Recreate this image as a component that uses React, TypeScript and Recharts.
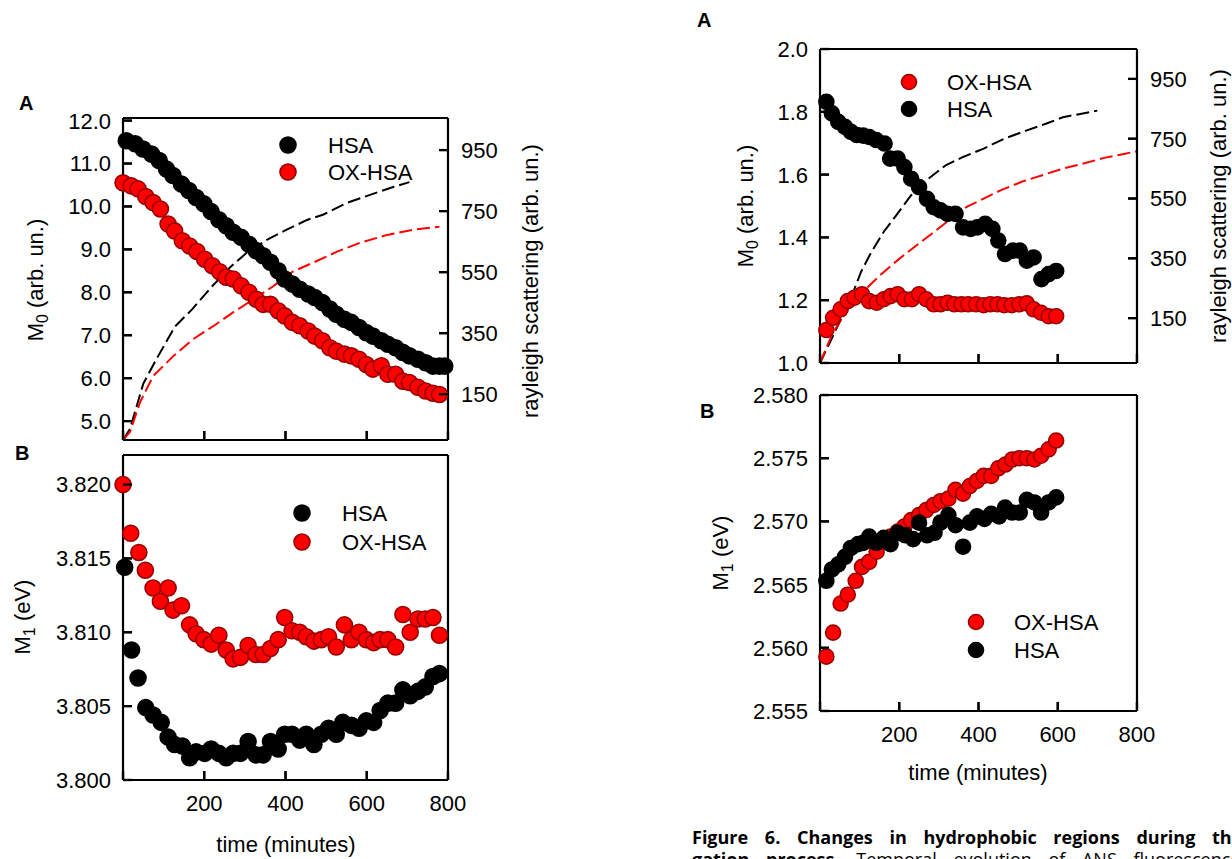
import { ComposedChart, Scatter, Line, XAxis, YAxis } from 'recharts';

// ---------- left column, panel A : M0 (left axis) + rayleigh scattering (right axis)
const leftA_hsaT = [8, 30, 49, 70, 89, 107, 123, 144, 162, 180, 199, 217, 236, 254, 271, 291, 310, 328, 345, 363, 382, 398, 417, 435, 456, 472, 491, 509, 525, 545, 562, 581, 599, 615, 636, 652, 671, 689, 705, 726, 745, 763, 779, 792];
const leftA_hsaM0 = [11.53, 11.46, 11.34, 11.22, 11.07, 10.87, 10.72, 10.52, 10.37, 10.21, 10.06, 9.88, 9.69, 9.55, 9.4, 9.28, 9.12, 8.97, 8.85, 8.7, 8.5, 8.31, 8.19, 8.07, 7.96, 7.88, 7.76, 7.61, 7.49, 7.37, 7.3, 7.18, 7.06, 6.98, 6.87, 6.79, 6.71, 6.6, 6.52, 6.44, 6.36, 6.28, 6.28, 6.28];
const leftA_oxT = [0, 20, 37, 56, 74, 92, 111, 127, 146, 164, 182, 201, 220, 238, 254, 271, 291, 310, 328, 345, 363, 382, 398, 417, 435, 456, 472, 491, 509, 525, 545, 562, 581, 599, 615, 636, 652, 671, 689, 705, 726, 745, 763, 779];
const leftA_oxM0 = [10.55, 10.48, 10.41, 10.23, 10.09, 9.94, 9.59, 9.43, 9.2, 9.08, 8.95, 8.77, 8.62, 8.48, 8.35, 8.31, 8.15, 8.0, 7.84, 7.72, 7.72, 7.57, 7.45, 7.3, 7.22, 7.1, 6.98, 6.87, 6.71, 6.63, 6.56, 6.52, 6.44, 6.32, 6.21, 6.29, 6.09, 6.09, 5.93, 5.9, 5.79, 5.7, 5.65, 5.62];
const leftA_hsaRayT = [0, 17, 50, 86, 128, 170, 219, 263, 305, 354, 403, 453, 492, 551, 608, 665, 705];
const leftA_hsaRay = [0, 36, 185, 274, 372, 428, 503, 565, 614, 656, 689, 721, 738, 777, 803, 829, 845];
const leftA_oxRayT = [0, 17, 42, 74, 123, 172, 221, 271, 320, 369, 418, 468, 527, 583, 650, 714, 779];
const leftA_oxRay = [0, 26, 124, 209, 274, 330, 372, 418, 460, 503, 552, 581, 617, 646, 672, 689, 699];

// ---------- left column, panel B : M1
const leftB_hsaT = [4, 21, 37, 56, 74, 94, 111, 127, 146, 164, 180, 201, 217, 236, 254, 271, 289, 308, 327, 345, 363, 382, 398, 416, 435, 451, 470, 488, 506, 525, 541, 562, 581, 599, 617, 633, 652, 671, 689, 707, 726, 744, 763, 779];
const leftB_hsaM1 = [3.8144, 3.8088, 3.8069, 3.8049, 3.8044, 3.8039, 3.8029, 3.8024, 3.8023, 3.8015, 3.8019, 3.8018, 3.8021, 3.8018, 3.8015, 3.8018, 3.8018, 3.8026, 3.8017, 3.8017, 3.8026, 3.8021, 3.8031, 3.8031, 3.8027, 3.8031, 3.8024, 3.8031, 3.8035, 3.8031, 3.8039, 3.8037, 3.8035, 3.804, 3.8039, 3.8047, 3.8052, 3.8052, 3.8061, 3.8057, 3.806, 3.8063, 3.807, 3.8072];
const leftB_oxT = [0, 19, 39, 55, 74, 92, 111, 123, 144, 164, 180, 199, 217, 236, 254, 271, 289, 308, 327, 345, 363, 382, 398, 416, 435, 451, 470, 488, 506, 525, 545, 562, 581, 599, 617, 633, 652, 671, 689, 707, 726, 744, 763, 779];
const leftB_oxM1 = [3.82, 3.8167, 3.8154, 3.8142, 3.813, 3.8121, 3.813, 3.8115, 3.8118, 3.8105, 3.8099, 3.8095, 3.8092, 3.8098, 3.8088, 3.8082, 3.8083, 3.8091, 3.8085, 3.8085, 3.8089, 3.8095, 3.811, 3.8101, 3.81, 3.8097, 3.8094, 3.8095, 3.8097, 3.809, 3.8105, 3.8095, 3.81, 3.8095, 3.8093, 3.8095, 3.8095, 3.809, 3.8112, 3.81, 3.8109, 3.8109, 3.811, 3.8098];

// ---------- right column, panel A
const rightA_hsaT = [16, 30, 46, 63, 78, 93, 109, 124, 142, 163, 177, 196, 213, 230, 250, 270, 287, 304, 322, 342, 361, 380, 397, 417, 435, 450, 467, 487, 504, 522, 539, 559, 577, 596];
const rightA_hsaM0 = [1.832, 1.795, 1.768, 1.752, 1.736, 1.726, 1.724, 1.72, 1.71, 1.699, 1.651, 1.651, 1.624, 1.587, 1.56, 1.523, 1.496, 1.486, 1.475, 1.475, 1.432, 1.427, 1.432, 1.443, 1.427, 1.39, 1.347, 1.358, 1.358, 1.326, 1.336, 1.267, 1.283, 1.293];
const rightA_oxT = [16, 33, 52, 70, 87, 106, 124, 143, 161, 178, 196, 213, 232, 250, 268, 287, 304, 322, 339, 357, 374, 394, 413, 430, 448, 465, 484, 503, 522, 539, 558, 577, 596];
const rightA_oxM0 = [1.105, 1.144, 1.171, 1.197, 1.208, 1.219, 1.197, 1.192, 1.203, 1.213, 1.219, 1.203, 1.203, 1.219, 1.203, 1.187, 1.187, 1.192, 1.187, 1.187, 1.187, 1.187, 1.184, 1.187, 1.187, 1.184, 1.184, 1.187, 1.19, 1.171, 1.16, 1.149, 1.149];
const rightA_hsaRayT = [0, 22, 48, 78, 104, 130, 161, 196, 230, 274, 317, 361, 413, 465, 522, 570, 613, 657, 700];
const rightA_hsaRay = [0, 61, 133, 217, 306, 372, 439, 500, 561, 617, 661, 689, 717, 750, 778, 800, 822, 833, 844];
const rightA_oxRayT = [0, 30, 65, 109, 152, 196, 239, 283, 326, 370, 413, 457, 509, 561, 613, 665, 717, 770, 800];
const rightA_oxRay = [0, 94, 172, 239, 294, 344, 389, 433, 478, 522, 550, 578, 606, 628, 650, 667, 686, 700, 708];

// ---------- right column, panel B
const rightB_oxT = [16, 33, 52, 70, 90, 106, 124, 143, 161, 178, 196, 213, 230, 250, 268, 287, 304, 324, 342, 361, 378, 396, 413, 432, 450, 468, 485, 503, 522, 541, 558, 577, 596];
const rightB_oxM1 = [2.5593, 2.5612, 2.5635, 2.5642, 2.5653, 2.5664, 2.5668, 2.5676, 2.5684, 2.5688, 2.5692, 2.5696, 2.5701, 2.5705, 2.5709, 2.5713, 2.5716, 2.5718, 2.5725, 2.5722, 2.5728, 2.5732, 2.5736, 2.5736, 2.5742, 2.5745, 2.5749, 2.575, 2.575, 2.5749, 2.5752, 2.5757, 2.5764];
const rightB_hsaT = [16, 30, 46, 63, 78, 96, 109, 124, 142, 161, 178, 196, 215, 235, 250, 270, 289, 304, 324, 342, 361, 378, 396, 415, 432, 452, 467, 485, 504, 522, 541, 558, 577, 596];
const rightB_hsaM1 = [2.5653, 2.5662, 2.5666, 2.5672, 2.5679, 2.5682, 2.5683, 2.5688, 2.5683, 2.5687, 2.5682, 2.5691, 2.5689, 2.5686, 2.5699, 2.5689, 2.5691, 2.5699, 2.5705, 2.5697, 2.568, 2.5699, 2.5704, 2.5702, 2.5706, 2.5704, 2.5711, 2.5707, 2.5707, 2.5717, 2.5715, 2.5707, 2.5715, 2.5719];

// ---------- tick labels
const timeMajors = [0, 200, 400, 600, 800];
const m0LeftMajors = [5, 6, 7, 8, 9, 10, 11, 12];
const m0RightMajors = [1.0, 1.2, 1.4, 1.6, 1.8, 2.0];
const rayMajors = [150, 350, 550, 750, 950];
const m1LeftMajors = [3.8, 3.805, 3.81, 3.815, 3.82];
const m1RightMajors = [2.555, 2.56, 2.565, 2.57, 2.575, 2.58];

const pts = (t: number[], v: number[]) => t.map((x, i) => ({ t: x, v: v[i] }));

const range = (a: number, b: number, step: number) => {
  const out: number[] = [];
  for (let i = 0; a + i * step <= b + step * 1e-6; i++) out.push(+(a + i * step).toFixed(6));
  return out;
};

const timeMinor = range(0, 800, 40);
const m0LeftMinor = range(4.6, 12.0, 0.2);
const m0RightMinor = range(1.0, 2.0, 0.04);
const rayMinor = range(30, 1030, 40);
const m1LeftMinor = range(3.8, 3.822, 0.001);
const m1RightMinor = range(2.555, 2.58, 0.001);

const FONT = '"Liberation Sans", Arial, sans-serif';
const RED = '#ff0000';
const DARK_RED = '#9a0000';
const MAJOR = 9;
const MINOR = 5;
const TW = 2.2; // tick thickness

type Side = 'left' | 'right' | 'top' | 'bottom';

// tick renderer: an inward mark plus, for labelled axes, the value
function makeTick(side: Side, len: number, digits: number, showLabel: boolean, hide: number[] = []) {
  return (props: any) => {
    const x = Number(props.x);
    const y = Number(props.y);
    const v = Number(props.payload.value);
    const txt = { fontSize: 22, fontFamily: FONT, fill: '#000', stroke: 'none' };
    const show = showLabel && !hide.some((h) => Math.abs(h - v) < 1e-6);
    let mark;
    let label = null;
    if (side === 'left') {
      mark = <rect x={x} y={y - TW / 2} width={len} height={TW} fill="#000" stroke="none" />;
      if (show) label = <text x={x - 12} y={y} dy="0.36em" textAnchor="end" {...txt}>{v.toFixed(digits)}</text>;
    } else if (side === 'right') {
      mark = <rect x={x - len} y={y - TW / 2} width={len} height={TW} fill="#000" stroke="none" />;
      if (show) label = <text x={x + 13} y={y} dy="0.36em" textAnchor="start" {...txt}>{v.toFixed(digits)}</text>;
    } else if (side === 'bottom') {
      mark = <rect x={x - TW / 2} y={y - len} width={TW} height={len} fill="#000" stroke="none" />;
      if (show) label = <text x={x} y={y + 31} textAnchor="middle" {...txt}>{v.toFixed(digits)}</text>;
    } else {
      mark = <rect x={x - TW / 2} y={y} width={TW} height={len} fill="#000" stroke="none" />;
    }
    return (
      <g>
        {mark}
        {label}
      </g>
    );
  };
}

const dotShape = (fill: string, stroke: string, r: number) => (p: any) =>
  <circle cx={p.cx} cy={p.cy} r={r} fill={fill} stroke={stroke} strokeWidth={1.6} />;

const axisLine = { stroke: '#000', strokeWidth: 2.2 };
const tickLine = { stroke: '#000', strokeWidth: TW };
const THIN = 0.01; // axis box thickness: recharts drops axes whose box is 0

// bottom + top time axes, each as a major axis (long ticks, labels) and a minor one (short ticks)
function xAxes(labels: boolean) {
  const common = { dataKey: 't', type: 'number' as const, domain: [0, 800], interval: 0, height: THIN, tickLine };
  return [
    <XAxis key="xb" xAxisId="b" orientation="bottom" {...common} ticks={timeMajors} tickSize={-MAJOR} tickMargin={MAJOR} axisLine={axisLine} tick={makeTick('bottom', MAJOR, 0, labels, [0])} />,
    <XAxis key="xbm" xAxisId="bm" orientation="bottom" {...common} ticks={timeMinor} tickSize={-MINOR} tickMargin={MINOR} axisLine={false} tick={makeTick('bottom', MINOR, 0, false)} />,
    <XAxis key="xt" xAxisId="t" orientation="top" {...common} ticks={timeMajors} tickSize={-MAJOR} tickMargin={MAJOR} axisLine={axisLine} tick={makeTick('top', MAJOR, 0, false)} />,
    <XAxis key="xtm" xAxisId="tm" orientation="top" {...common} ticks={timeMinor} tickSize={-MINOR} tickMargin={MINOR} axisLine={false} tick={makeTick('top', MINOR, 0, false)} />,
  ];
}

function yAxes(id: string, side: 'left' | 'right', domain: number[], majors: number[], minors: number[], digits: number, labels: boolean) {
  const common = { type: 'number' as const, orientation: side, domain, interval: 0, width: THIN, tickLine };
  return [
    <YAxis key={id} yAxisId={id} {...common} ticks={majors} tickSize={-MAJOR} tickMargin={MAJOR} axisLine={axisLine} tick={makeTick(side, MAJOR, digits, labels)} />,
    <YAxis key={id + 'm'} yAxisId={id + 'm'} {...common} ticks={minors} tickSize={-MINOR} tickMargin={MINOR} axisLine={false} tick={makeTick(side, MINOR, digits, false)} />,
  ];
}

function Title({ x, y, main, sub, rest }: { x: number; y: number; main: string; sub?: string; rest: string }) {
  return (
    <text x={x} y={y} dy="0.35em" textAnchor="middle" fontSize={22} fontFamily={FONT} fill="#000" transform={`rotate(-90 ${x} ${y})`}>
      {main}
      {sub && (
        <tspan dy={5} fontSize={16}>
          {sub}
        </tspan>
      )}
      <tspan dy={sub ? -5 : 0}>{rest}</tspan>
    </text>
  );
}

function LegendItem({ x, y, r, fill, stroke, textX, label }: { x: number; y: number; r: number; fill: string; stroke: string; textX: number; label: string }) {
  return (
    <g>
      <circle cx={x} cy={y} r={r} fill={fill} stroke={stroke} strokeWidth={1.6} />
      <text x={textX} y={y} dy="0.36em" fontSize={22} fontFamily={FONT} fill="#000">
        {label}
      </text>
    </g>
  );
}

function PanelLetter({ x, y, letter }: { x: number; y: number; letter: string }) {
  return (
    <text x={x} y={y} fontSize={20} fontWeight="bold" fontFamily={FONT} fill="#000">
      {letter}
    </text>
  );
}

export default function App() {
  return (
    <div style={{ position: 'absolute', left: 0, top: 0, width: 1232, height: 859, background: '#fff', overflow: 'hidden', fontFamily: FONT }}>
      {/* left column, A */}
      <div style={{ position: 'absolute', left: 0, top: 60 }}>
        <ComposedChart width={565} height={390} margin={{ top: 58, right: 117, bottom: 10, left: 123 }}>
          {xAxes(false)}
          {yAxes('l', 'left', [4.56, 12.06], m0LeftMajors, m0LeftMinor, 1, true)}
          {yAxes('r', 'right', [0, 1055], rayMajors, rayMinor, 0, true)}
          <Scatter data={pts(leftA_oxT, leftA_oxM0)} dataKey="v" xAxisId="b" yAxisId="l" shape={dotShape(RED, DARK_RED, 8)} isAnimationActive={false} />
          <Scatter data={pts(leftA_hsaT, leftA_hsaM0)} dataKey="v" xAxisId="b" yAxisId="l" shape={dotShape('#000', '#000', 8)} isAnimationActive={false} />
          <Line data={pts(leftA_hsaRayT, leftA_hsaRay)} dataKey="v" xAxisId="b" yAxisId="r" type="linear" stroke="#000" strokeWidth={2} strokeDasharray="13 5" dot={false} activeDot={false} isAnimationActive={false} />
          <Line data={pts(leftA_oxRayT, leftA_oxRay)} dataKey="v" xAxisId="b" yAxisId="r" type="linear" stroke={RED} strokeWidth={2} strokeDasharray="13 5" dot={false} activeDot={false} isAnimationActive={false} />
        </ComposedChart>
      </div>

      {/* left column, B */}
      <div style={{ position: 'absolute', left: 0, top: 440 }}>
        <ComposedChart width={565} height={419} margin={{ top: 15, right: 117, bottom: 79, left: 123 }}>
          {xAxes(true)}
          {yAxes('l', 'left', [3.8, 3.822], m1LeftMajors, m1LeftMinor, 3, true)}
          {yAxes('r', 'right', [3.8, 3.822], m1LeftMajors, m1LeftMinor, 3, false)}
          <Scatter data={pts(leftB_hsaT, leftB_hsaM1)} dataKey="v" xAxisId="b" yAxisId="l" shape={dotShape('#000', '#000', 8)} isAnimationActive={false} />
          <Scatter data={pts(leftB_oxT, leftB_oxM1)} dataKey="v" xAxisId="b" yAxisId="l" shape={dotShape(RED, DARK_RED, 8)} isAnimationActive={false} />
        </ComposedChart>
      </div>

      {/* right column, A */}
      <div style={{ position: 'absolute', left: 680, top: 0 }}>
        <ComposedChart width={552} height={375} margin={{ top: 49, right: 95, bottom: 12, left: 140 }}>
          {xAxes(false)}
          {yAxes('l', 'left', [1.0, 2.0], m0RightMajors, m0RightMinor, 1, true)}
          {yAxes('r', 'right', [0, 1050], rayMajors, rayMinor, 0, true)}
          <Scatter data={pts(rightA_hsaT, rightA_hsaM0)} dataKey="v" xAxisId="b" yAxisId="l" shape={dotShape('#000', '#000', 7.5)} isAnimationActive={false} />
          <Scatter data={pts(rightA_oxT, rightA_oxM0)} dataKey="v" xAxisId="b" yAxisId="l" shape={dotShape(RED, DARK_RED, 7.5)} isAnimationActive={false} />
          <Line data={pts(rightA_hsaRayT, rightA_hsaRay)} dataKey="v" xAxisId="b" yAxisId="r" type="linear" stroke="#000" strokeWidth={2} strokeDasharray="13 5" dot={false} activeDot={false} isAnimationActive={false} />
          <Line data={pts(rightA_oxRayT, rightA_oxRay)} dataKey="v" xAxisId="b" yAxisId="r" type="linear" stroke={RED} strokeWidth={2} strokeDasharray="13 5" dot={false} activeDot={false} isAnimationActive={false} />
        </ComposedChart>
      </div>

      {/* right column, B */}
      <div style={{ position: 'absolute', left: 680, top: 375 }}>
        <ComposedChart width={552} height={430} margin={{ top: 20, right: 95, bottom: 94, left: 140 }}>
          {xAxes(true)}
          {yAxes('l', 'left', [2.555, 2.58], m1RightMajors, m1RightMinor, 3, true)}
          {yAxes('r', 'right', [2.555, 2.58], m1RightMajors, m1RightMinor, 3, false)}
          <Scatter data={pts(rightB_oxT, rightB_oxM1)} dataKey="v" xAxisId="b" yAxisId="l" shape={dotShape(RED, DARK_RED, 7.5)} isAnimationActive={false} />
          <Scatter data={pts(rightB_hsaT, rightB_hsaM1)} dataKey="v" xAxisId="b" yAxisId="l" shape={dotShape('#000', '#000', 7.5)} isAnimationActive={false} />
        </ComposedChart>
      </div>

      {/* titles, panel letters and legends */}
      <svg width={1232} height={859} style={{ position: 'absolute', left: 0, top: 0, pointerEvents: 'none' }}>
        <PanelLetter x={19} y={110} letter="A" />
        <Title x={35} y={280} main="M" sub="0" rest=" (arb. un.)" />
        <Title x={530} y={281} main="rayleigh scattering (arb. un.)" rest="" />
        <LegendItem x={288} y={145} r={8} fill="#000" stroke="#000" textX={328} label="HSA" />
        <LegendItem x={288} y={172} r={8} fill={RED} stroke={DARK_RED} textX={328} label="OX-HSA" />

        <PanelLetter x={15} y={460} letter="B" />
        <Title x={22} y={617} main="M" sub="1" rest=" (eV)" />
        <text x={286} y={852} textAnchor="middle" fontSize={22} fontFamily={FONT} fill="#000">time (minutes)</text>
        <LegendItem x={302} y={513} r={8} fill="#000" stroke="#000" textX={342} label="HSA" />
        <LegendItem x={302} y={542} r={8} fill={RED} stroke={DARK_RED} textX={342} label="OX-HSA" />

        <PanelLetter x={697} y={27} letter="A" />
        <Title x={745} y={206} main="M" sub="0" rest=" (arb. un.)" />
        <Title x={1218} y={206} main="rayleigh scattering (arb. un.)" rest="" />
        <LegendItem x={909} y={82} r={7.5} fill={RED} stroke={DARK_RED} textX={947} label="OX-HSA" />
        <LegendItem x={909} y={109} r={7.5} fill="#000" stroke="#000" textX={947} label="HSA" />

        <PanelLetter x={700} y={418} letter="B" />
        <Title x={720} y={553} main="M" sub="1" rest=" (eV)" />
        <text x={978} y={780} textAnchor="middle" fontSize={22} fontFamily={FONT} fill="#000">time (minutes)</text>
        <LegendItem x={976} y={622} r={7.5} fill={RED} stroke={DARK_RED} textX={1014} label="OX-HSA" />
        <LegendItem x={976} y={650} r={7.5} fill="#000" stroke="#000" textX={1014} label="HSA" />
      </svg>

      {/* caption, cut by the right edge of the page */}
      <div style={{ position: 'absolute', left: 692, top: 826, width: 640, fontFamily: '"Open Sans", sans-serif', fontSize: 18, lineHeight: '22px', color: '#000' }}>
        <div style={{ whiteSpace: 'nowrap', wordSpacing: 12, fontWeight: 'bold' }}>
          Figure 6. Changes in hydrophobic regions during the aggre-
        </div>
        <div style={{ whiteSpace: 'nowrap', wordSpacing: 12 }}>
          <b>gation process.</b> Temporal evolution of ANS fluorescence moments
        </div>
      </div>
    </div>
  );
}
